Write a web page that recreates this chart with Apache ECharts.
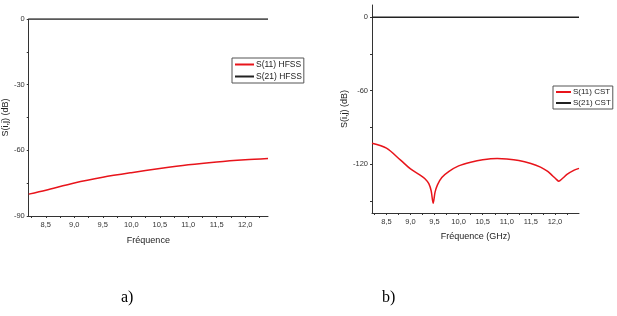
<!DOCTYPE html>
<html>
<head>
<meta charset="utf-8">
<script src="https://cdn.jsdelivr.net/npm/echarts@6/dist/echarts.min.js"></script>
<style>
  html, body { margin: 0; padding: 0; background: #fff; }
  #chart { width: 617px; height: 316px; }
</style>
</head>
<body>
<div id="chart"></div>
<script>
// panel a) HFSS
const freqA = [8.2, 8.5, 9.0, 9.5, 10.0, 10.5, 11.0, 11.5, 12.0, 12.4]
const s11A = [-80, -78.2, -74.9, -72.3, -70.2, -68.3, -66.6, -65.3, -64.3, -63.7]
const s21A = [0, 0, 0, 0, 0, 0, 0, 0, 0, 0]

// panel b) CST
const freqB = [8.2, 8.5, 8.8, 9.0, 9.2, 9.3, 9.38, 9.43, 9.47, 9.51, 9.56, 9.65, 9.8, 10.0, 10.25, 10.5,
    10.8, 11.0, 11.25, 11.5, 11.7, 11.85, 11.95, 12.03, 12.08, 12.15, 12.25, 12.4, 12.5]
const s11B = [-103, -107, -117, -124, -129, -132, -136, -142, -152, -143, -137, -131, -126, -121.5, -118.5, -116.5,
    -115.5, -115.8, -117, -119.5, -122.5, -126, -129.5, -132.5, -134, -132, -128.5, -125, -123.5]
const s21B = freqB.map(() => 0)

const xTicks = [8.5, 9.0, 9.5, 10.0, 10.5, 11.0, 11.5, 12.0]
const xMinor = [8.25, 8.5, 8.75, 9.0, 9.25, 9.5, 9.75, 10.0, 10.25, 10.5, 10.75, 11.0, 11.25, 11.5, 11.75, 12.0, 12.25]
const yTicksA = [0, -30, -60, -90]
const yMinorA = [0, -15, -30, -45, -60, -75, -90]
const yTicksB = [0, -60, -120]
const yMinorB = [0, -30, -60, -90, -120, -150]

const pairs = (xs, ys) => xs.map((x, i) => [x, ys[i]])
const comma = v => Number(v).toFixed(1).replace('.', ',')

const font = '"Liberation Sans", sans-serif'
const axisCol = '#333'

const xAxis = (idx, min, max, name, gap) => ({
    type: 'value', gridIndex: idx, min, max, name,
    nameLocation: 'middle', nameGap: gap,
    nameTextStyle: { fontFamily: font, fontSize: 9, color: '#222' },
    axisLine: { onZero: false, lineStyle: { color: axisCol, width: 1 } },
    axisTick: { customValues: xMinor, length: 2, lineStyle: { color: axisCol } },
    axisLabel: { customValues: xTicks, formatter: comma, fontFamily: font, fontSize: 7.5, color: '#333', margin: 5 },
    splitLine: { show: false }
})

const yAxis = (idx, min, max, ticks, minor, gap) => ({
    type: 'value', gridIndex: idx, min, max,
    name: 'S(i,j) (dB)', nameLocation: 'middle', nameGap: gap,
    nameTextStyle: { fontFamily: font, fontSize: 9, color: '#222' },
    axisLine: { show: true, onZero: false, lineStyle: { color: axisCol, width: 1 } },
    axisTick: { show: true, customValues: minor, length: 2, lineStyle: { color: axisCol } },
    axisLabel: { customValues: ticks, fontFamily: font, fontSize: 7.5, color: '#333', margin: 4 },
    splitLine: { show: false }
})

const line = (name, idx, data, color) => ({
    name, type: 'line', xAxisIndex: idx, yAxisIndex: idx, data,
    smooth: 0.3, showSymbol: false, symbol: 'none',
    lineStyle: { color, width: 1.5 }, itemStyle: { color }
})

const legend = (left, top, names, w, size) => ({
    data: names, left, top, orient: 'vertical',
    icon: 'rect', itemWidth: w, itemHeight: 2, itemGap: 3,
    padding: [2, 2, 2, 3], borderColor: '#555', borderWidth: 1,
    textStyle: { fontFamily: font, fontSize: size, color: '#222', padding: [0, 0, 0, -3] }
})

const chart = echarts.init(document.getElementById('chart'))
chart.setOption({
    animation: false,
    backgroundColor: '#fff',
    grid: [
        { left: 28, top: 19, width: 240, height: 197 },
        { left: 372, top: 5, width: 207, height: 208 }
    ],
    xAxis: [
        xAxis(0, 8.2, 12.4, 'Fréquence', 20),
        xAxis(1, 8.2, 12.5, 'Fréquence (GHz)', 19)
    ],
    yAxis: [
        yAxis(0, -90, 0, yTicksA, yMinorA, 18),
        yAxis(1, -160, 10, yTicksB, yMinorB, 18)
    ],
    legend: [
        legend(232, 58, ['S(11) HFSS', 'S(21) HFSS'], 19, 8.5),
        legend(553, 86, ['S(11) CST', 'S(21) CST'], 15, 8)
    ],
    series: [
        line('S(11) HFSS', 0, pairs(freqA, s11A), '#e8141b'),
        line('S(21) HFSS', 0, pairs(freqA, s21A), '#222'),
        line('S(11) CST', 1, pairs(freqB, s11B), '#e8141b'),
        line('S(21) CST', 1, pairs(freqB, s21B), '#222')
    ],
    graphic: [
        { type: 'text', left: 121, top: 290, style: { text: 'a)', font: '16px "Liberation Serif"', fill: '#000' } },
        { type: 'text', left: 382, top: 290, style: { text: 'b)', font: '16px "Liberation Serif"', fill: '#000' } }
    ]
})
</script>
</body>
</html>
